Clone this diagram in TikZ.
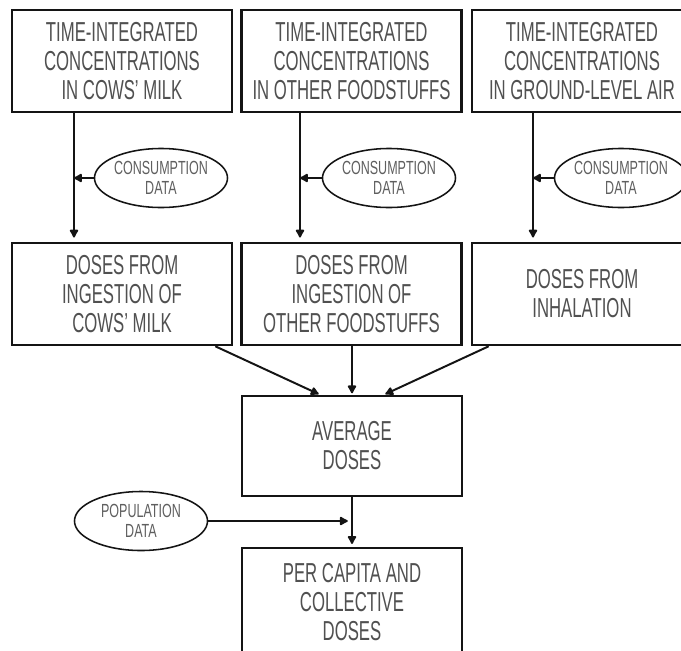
\documentclass[tikz,border=0pt]{standalone}
\usepackage{fontspec}
\setmainfont[FakeStretch=0.61]{Liberation Sans}
\newfontfamily\datafont[FakeStretch=0.66]{Liberation Sans}
\usepackage{tikz}
\usetikzlibrary{
    arrows.meta,
    calc,
    positioning,
    shapes.geometric
}
\definecolor{ink}{RGB}{20,20,20}
\definecolor{label}{RGB}{80,80,80}
\definecolor{datalabel}{RGB}{95,95,95}
\tikzset{
    line cap=butt,
    line join=miter,
    stagebox/.style={
        rectangle,
        draw=ink,
        line width=1.8pt,
        fill=white,
        text=label,
        minimum width=5.5cm,
        minimum height=2.55cm,
        inner sep=1pt,
        align=center,
        font=\fontsize{19.5}{20.6}\selectfont
    },
    datasource/.style={
        ellipse,
        draw=ink,
        line width=1.1pt,
        fill=white,
        text=datalabel,
        minimum width=3.325cm,
        minimum height=1.475cm,
        inner sep=0pt,
        align=center,
        font=\datafont\fontsize{13.5}{14.2}\selectfont
    },
    flow/.style={
        -{Latex[round, length=7pt, width=7.5pt]},
        draw=ink,
        line width=1.4pt
    }
}

\begin{document}
\begin{tikzpicture}[x=0.025cm, y=-0.025cm]
\useasboundingbox (0,0) rectangle (681,650);

% Row 1: time-integrated concentrations
\node[stagebox] (milkconc) at (122,61) {TIME-INTEGRATED\\CONCENTRATIONS\\IN COWS' MILK};
\node[stagebox] (foodconc) at (351.5,61) {TIME-INTEGRATED\\CONCENTRATIONS\\IN OTHER FOODSTUFFS};
\node[stagebox] (airconc) at (582,61) {TIME-INTEGRATED\\CONCENTRATIONS\\IN GROUND-LEVEL AIR};

% Row 2: doses by pathway
\node[stagebox] (milkdose) at (122,294) {DOSES FROM\\INGESTION OF\\COWS' MILK};
\node[stagebox] (fooddose) at (351.5,294) {DOSES FROM\\INGESTION OF\\OTHER FOODSTUFFS};
\node[stagebox] (airdose) at (582,294) {DOSES FROM\\INHALATION};

% Consumption data feeding each pathway
\node[datasource] (milkuse) at (161,178) {CONSUMPTION\\DATA};
\node[datasource] (fooduse) at (389,178) {CONSUMPTION\\DATA};
\node[datasource] (airuse) at (621,178) {CONSUMPTION\\DATA};

% Pathway lines (off centre, left of each box)
\coordinate (milkline) at (74,0);
\coordinate (foodline) at (300,0);
\coordinate (airline) at (533,0);

% Lower part
\node[stagebox, minimum height=2.5cm] (avgdose) at (352,446) {AVERAGE\\DOSES};
\node[stagebox, minimum height=2.7cm] (capita) at (352,602) {PER CAPITA AND\\COLLECTIVE\\DOSES};
\node[datasource] (popdata) at (141,521) {POPULATION\\DATA};

% Edges
\draw[flow, shorten >=3pt] (milkconc.south -| milkline) -- (milkdose.north -| milkline);
\draw[flow, shorten >=3pt] (foodconc.south -| foodline) -- (fooddose.north -| foodline);
\draw[flow, shorten >=3pt] (airconc.south -| airline) -- (airdose.north -| airline);

\draw[flow] (milkuse.west) -- (milkuse.west -| milkline);
\draw[flow] (fooduse.west) -- (fooduse.west -| foodline);
\draw[flow] (airuse.west) -- (airuse.west -| airline);

\draw[flow, shorten >=1pt] ($(milkdose.south east)+(-18,0)$) -- ($(avgdose.north)+(-32,0)$);
\draw[flow, shorten >=1pt] (fooddose.south -| avgdose.north) -- (avgdose.north);
\draw[flow, shorten >=1pt] ($(airdose.south west)+(18,0)$) -- ($(avgdose.north)+(32,0)$);

\draw[flow, shorten >=2pt] (avgdose.south) -- (capita.north);
\draw[flow, shorten >=3pt] (popdata.east) -- (popdata.east -| avgdose.south);
\end{tikzpicture}
\end{document}
